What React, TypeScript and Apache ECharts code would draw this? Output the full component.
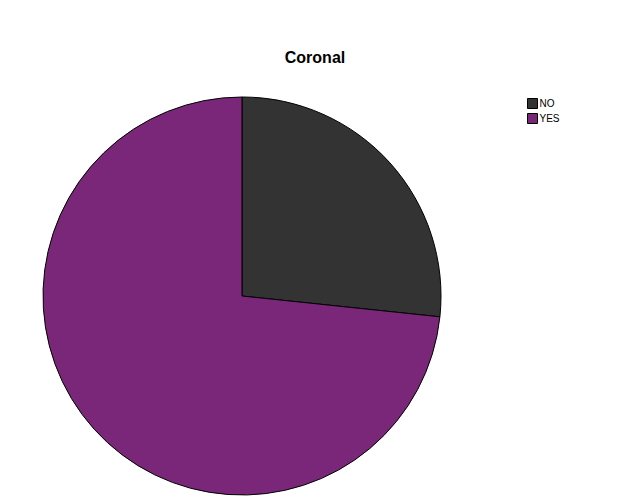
import { useEffect, useRef } from "react";
import * as echarts from "echarts";

const categories = ["NO", "YES"];
const counts = [4, 11];
const colors = ["#333333", "#7b2779"];

export default function App() {
  const ref = useRef<HTMLDivElement | null>(null);

  useEffect(() => {
    if (!ref.current) return;
    const chart = echarts.init(ref.current, null, { renderer: "svg" });
    chart.setOption({
      animation: false,
      backgroundColor: "#ffffff",
      title: {
        text: "Coronal",
        left: 310,
        top: 44,
        textAlign: "center",
        textStyle: { fontFamily: "Liberation Sans, Arial", fontSize: 16, fontWeight: "bold", color: "#000" },
      },
      legend: {
        orient: "vertical",
        left: 522,
        top: 93,
        itemWidth: 10,
        itemHeight: 10,
        itemGap: 4,
        icon: "rect",
        data: categories,
        itemStyle: { borderColor: "#000", borderWidth: 1 },
        textStyle: { fontFamily: "Liberation Sans, Arial", fontSize: 10, color: "#000", padding: [0, 0, 0, -3] },
      },
      series: [
        {
          type: "pie",
          center: [242, 296],
          radius: 199,
          startAngle: 90,
          clockwise: true,
          label: { show: false },
          labelLine: { show: false },
          emphasis: { disabled: true },
          itemStyle: { borderColor: "#000", borderWidth: 1 },
          data: categories.map((name, i) => ({ name, value: counts[i], itemStyle: { color: colors[i] } })),
        },
      ],
    });
    return () => chart.dispose();
  }, []);

  return <div ref={ref} style={{ position: "fixed", left: 0, top: 0, width: 629, height: 504 }} />;
}
